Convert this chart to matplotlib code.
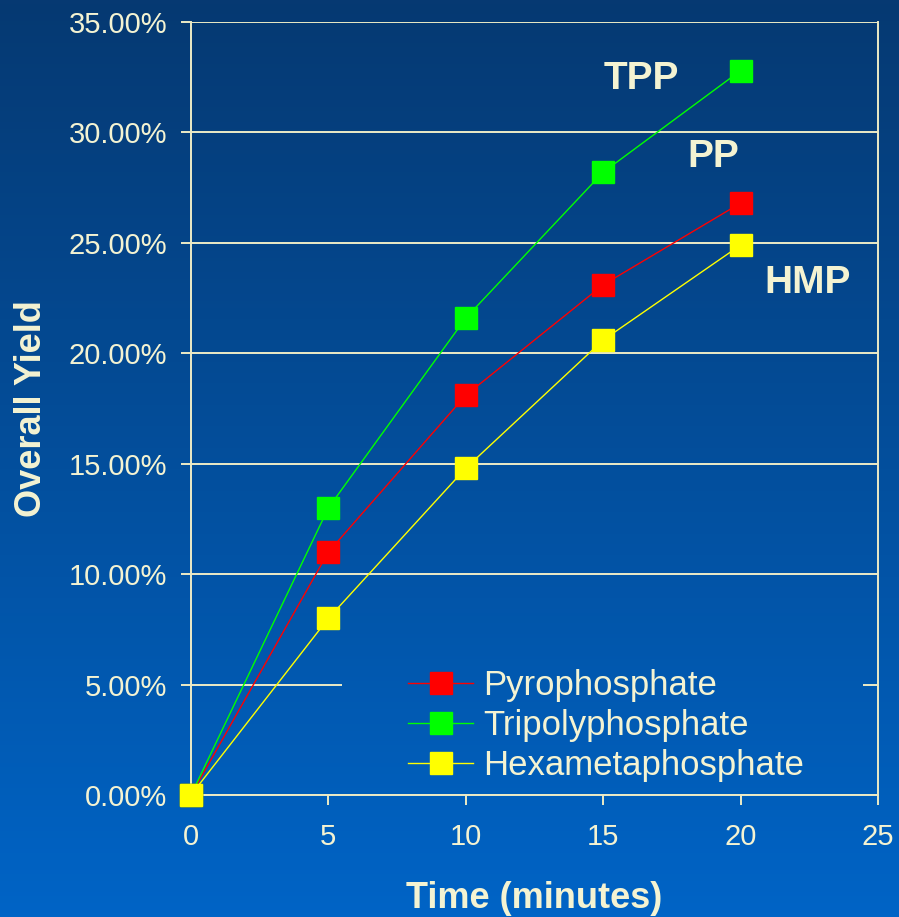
import numpy as np
import matplotlib
matplotlib.use("Agg")
import matplotlib.pyplot as plt
from matplotlib.colors import LinearSegmentedColormap
from matplotlib.ticker import FuncFormatter
from matplotlib.patches import Rectangle

plt.rcParams['font.family'] = ['Liberation Sans', 'DejaVu Sans']

time_min = [0, 5, 10, 15, 20]
pyro = [0.0, 11.0, 18.1, 23.1, 26.8]
tripoly = [0.0, 13.0, 21.6, 28.2, 32.8]
hexameta = [0.0, 8.0, 14.8, 20.6, 24.9]
series_names = ["Pyrophosphate", "Tripolyphosphate", "Hexametaphosphate"]
series_colors = ["#FF0000", "#00FF00", "#FFFF00"]
annotations = [("TPP", 16.4, 32.4), ("PP", 19.0, 28.9), ("HMP", 22.45, 23.2)]

TEXT = "#F4F3D2"
GRID = "#EDEBC6"
TOP_C = np.array([0x06, 0x39, 0x72]) / 255
BOT_C = np.array([0x00, 0x64, 0xC6]) / 255

W, H = 899, 917
fig = plt.figure(figsize=(W / 100, H / 100), dpi=100)

grad = np.linspace(0, 1, 256).reshape(-1, 1)
cmap = LinearSegmentedColormap.from_list("bg", [TOP_C, BOT_C])

bg = fig.add_axes([0, 0, 1, 1], zorder=-10)
bg.imshow(grad, aspect='auto', cmap=cmap, extent=[0, 1, 0, 1], origin='upper')
bg.set_axis_off()

left, right, top, bottom = 191, 878, 22, 795
ax = fig.add_axes([left / W, 1 - bottom / H, (right - left) / W, (bottom - top) / H])
ax.set_facecolor('none')

# gradient patch behind the legend (hides the gridline there, like the original)
im = ax.imshow(grad, aspect='auto', cmap=cmap, extent=[0, 1, 0, 1], origin='upper',
               transform=fig.transFigure, zorder=1)
clip = Rectangle((342 / W, 1 - 785 / H), (863 - 342) / W, (785 - 655) / H,
                 transform=fig.transFigure, facecolor='none', edgecolor='none')
im.set_clip_path(clip)

ax.set_xlim(0, 25)
ax.set_ylim(0, 35)
ax.set_xticks([0, 5, 10, 15, 20, 25])
ax.set_yticks(np.arange(0, 36, 5))
ax.yaxis.set_major_formatter(FuncFormatter(lambda v, p: f"{v:.2f}%"))

ax.grid(axis='y', color=GRID, linewidth=1.4)
ax.set_axisbelow(True)
for s in ['left', 'bottom', 'right']:
    ax.spines[s].set_color(GRID)
    ax.spines[s].set_linewidth(1.4)
ax.spines['top'].set_visible(False)

ax.tick_params(axis='both', colors=GRID, width=1.4, length=7, labelcolor=TEXT, labelsize=21)
ax.tick_params(axis='x', pad=13)
ax.tick_params(axis='y', pad=10)

for vals, name, col in zip([pyro, tripoly, hexameta], series_names, series_colors):
    ax.plot(time_min, vals, color=col, linewidth=1.0, marker='s', markersize=15.5,
            markerfacecolor=col, markeredgecolor=col, label=name, clip_on=False, zorder=3)

for txt, x, y in annotations:
    ax.text(x, y, txt, color=TEXT, fontsize=28, fontweight='bold', ha='center', va='center')

ax.set_xlabel("Time (minutes)", color=TEXT, fontsize=26, fontweight='bold', labelpad=22)
ax.set_ylabel("Overall Yield", color=TEXT, fontsize=26, fontweight='bold', labelpad=14)

leg = ax.legend(loc='upper left',
                bbox_to_anchor=((398 - left) / (right - left), 1 - (659 - top) / (bottom - top)),
                fontsize=25, frameon=False,
                handlelength=1.87, handletextpad=0.29, labelspacing=0.2, borderaxespad=0,
                borderpad=0.3)
for t in leg.get_texts():
    t.set_color(TEXT)

fig.savefig("out.png", dpi=100)
